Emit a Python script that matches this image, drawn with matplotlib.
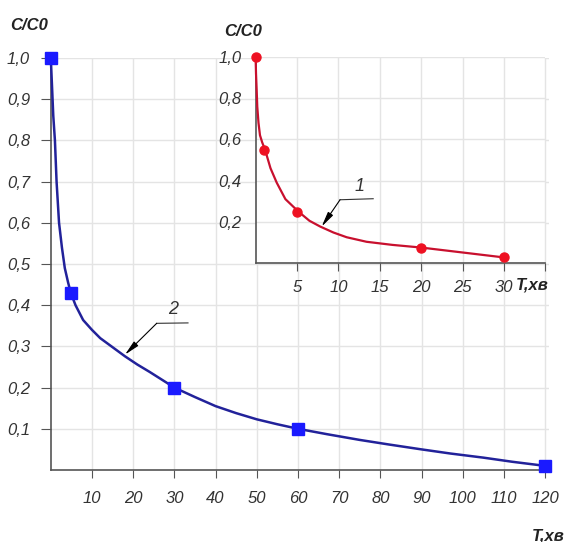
import matplotlib
matplotlib.use("Agg")
import matplotlib.pyplot as plt

# ---- data ----
main_t = [0, 5, 30, 60, 120]
main_c = [1.0, 0.43, 0.2, 0.1, 0.01]
main_curve_t = [0, 0.3, 0.6, 1.0, 1.4, 2.0, 2.7, 3.4, 4.2, 4.85, 6, 7.85, 10, 12, 15, 18, 21, 24,
                27, 30, 35, 40, 45, 50, 55, 60, 67, 75, 82, 90, 97, 105, 112, 120]
main_curve_c = [1.0, 0.93, 0.86, 0.80, 0.70, 0.60, 0.54, 0.49, 0.455, 0.43, 0.40, 0.364, 0.34, 0.32,
                0.298, 0.276, 0.256, 0.238, 0.219, 0.2, 0.177, 0.155, 0.138, 0.123, 0.111, 0.1,
                0.087, 0.073, 0.062, 0.05, 0.04, 0.03, 0.02, 0.01]

ins_t = [0, 1, 5, 20, 30]
ins_c = [1.0, 0.55, 0.25, 0.075, 0.027]
ins_curve_t = [0, 0.05, 0.13, 0.2, 0.35, 0.53, 0.8, 1.14, 1.8, 2.55, 3.6, 5.16, 6.5, 7.8, 9.4, 11,
               13.4, 16.5, 20, 22.5, 25, 27.5, 30]
ins_curve_c = [1.0, 0.92, 0.84, 0.76, 0.68, 0.62, 0.585, 0.55, 0.46, 0.39, 0.31, 0.25, 0.205, 0.177,
               0.148, 0.125, 0.103, 0.088, 0.075, 0.063, 0.051, 0.039, 0.027]

main_xticks = [10, 20, 30, 40, 50, 60, 70, 80, 90, 100, 110, 120]
main_yticks = [0.1, 0.2, 0.3, 0.4, 0.5, 0.6, 0.7, 0.8, 0.9, 1.0]
main_ylabels = ["0,1", "0,2", "0,3", "0,4", "0,5", "0,6", "0,7", "0,8", "0,9", "1,0"]
ins_xticks = [5, 10, 15, 20, 25, 30, 35]
ins_xlabels = ["5", "10", "15", "20", "25", "30", ""]
ins_yticks = [0.2, 0.4, 0.6, 0.8, 1.0]
ins_ylabels = ["0,2", "0,4", "0,6", "0,8", "1,0"]

W, H = 566, 542
plt.rcParams['font.family'] = ['Liberation Sans', 'DejaVu Sans']
fig = plt.figure(figsize=(W / 100, H / 100), dpi=100)
fig.patch.set_facecolor('white')

def rect(l, r, t, b):
    return [l / W, 1 - b / H, (r - l) / W, (b - t) / H]

grid_col = '#e4e4e4'
txt_col = '#333333'

# ---- main axes ----
ax = fig.add_axes(rect(50.8, 549.3, 58, 470))
ax.set_xlim(0, 121)
ax.set_ylim(0, 1.0)
for s in ['top', 'right']:
    ax.spines[s].set_visible(False)
for s in ['left', 'bottom']:
    ax.spines[s].set_color('#555555')
    ax.spines[s].set_linewidth(1.2)
ax.set_xticks(main_xticks)
ax.set_xticklabels([str(v) for v in main_xticks], fontsize=12, style='italic', color=txt_col)
ax.set_yticks(main_yticks)
ax.set_yticklabels(main_ylabels, fontsize=12, style='italic', color=txt_col)
ax.tick_params(axis='x', direction='out', length=6, pad=9, color='#555555')
ax.tick_params(axis='y', direction='out', length=7, pad=8, color='#555555')
ax.grid(True, color=grid_col, lw=1.0)
ax.set_axisbelow(True)

ax.plot(main_curve_t, main_curve_c, color='#22229a', lw=1.8, zorder=3, clip_on=False,
        solid_joinstyle='round')
ax.plot(main_t, main_c, 's', color='#1a1aff', ms=8, zorder=4, clip_on=False)

ax.plot([25.7, 33.3], [0.356, 0.357], color='#333333', lw=0.8)
ax.annotate('', xy=(18.0, 0.28), xytext=(25.7, 0.356),
            arrowprops=dict(arrowstyle='-|>,head_length=0.9,head_width=0.18',
                            color='black', lw=0.8, shrinkA=0, shrinkB=0))
ax.text(29.7, 0.39, '2', fontsize=13, style='italic', color=txt_col, ha='center', va='center')

# ---- inset axes ----
ai = fig.add_axes(rect(255.6, 545.4, 57, 263))
ai.set_facecolor('white')
ai.set_xlim(0, 35)
ai.set_ylim(0, 1.0)
for s in ['top', 'right']:
    ai.spines[s].set_visible(False)
for s in ['left', 'bottom']:
    ai.spines[s].set_color('#555555')
    ai.spines[s].set_linewidth(1.2)
ai.set_xticks(ins_xticks)
ai.set_xticklabels(ins_xlabels, fontsize=12, style='italic', color=txt_col)
ai.set_yticks(ins_yticks)
ai.set_yticklabels(ins_ylabels, fontsize=12, style='italic', color=txt_col)
ai.tick_params(axis='x', direction='out', length=6, pad=6, color='#555555')
ai.tick_params(axis='y', direction='out', length=0, pad=10, color='#555555')
ai.grid(True, color=grid_col, lw=1.0)
ai.set_axisbelow(True)

ai.plot(ins_curve_t, ins_curve_c, color='#c8102e', lw=1.6, zorder=3, clip_on=False,
        solid_joinstyle='round')
ai.plot(ins_t, ins_c, 'o', color='#ee1122', ms=6.5, zorder=4, clip_on=False)

ai.plot([10.2, 14.2], [0.307, 0.312], color='#333333', lw=0.8)
ai.annotate('', xy=(7.98, 0.177), xytext=(10.2, 0.307),
            arrowprops=dict(arrowstyle='-|>,head_length=0.9,head_width=0.18',
                            color='black', lw=0.8, shrinkA=0, shrinkB=0))
ai.text(12.6, 0.37, '1', fontsize=13, style='italic', color=txt_col, ha='center', va='center')

# ---- axis titles ----
fig.text(10 / W, 1 - 25 / H, 'C/C0', fontsize=12, fontweight='bold', style='italic',
         color='#222222', ha='left', va='center')
fig.text(224 / W, 1 - 32 / H, 'C/C0', fontsize=12, fontweight='bold', style='italic',
         color='#222222', ha='left', va='center')
fig.text(516 / W, 1 - 285 / H, 'T,хв', fontsize=12, fontweight='bold', style='italic',
         color='#222222', ha='left', va='center')
fig.text(532 / W, 1 - 536 / H, 'T,хв', fontsize=12, fontweight='bold', style='italic',
         color='#222222', ha='left', va='center')

fig.savefig('out.png', dpi=100, facecolor='white')
